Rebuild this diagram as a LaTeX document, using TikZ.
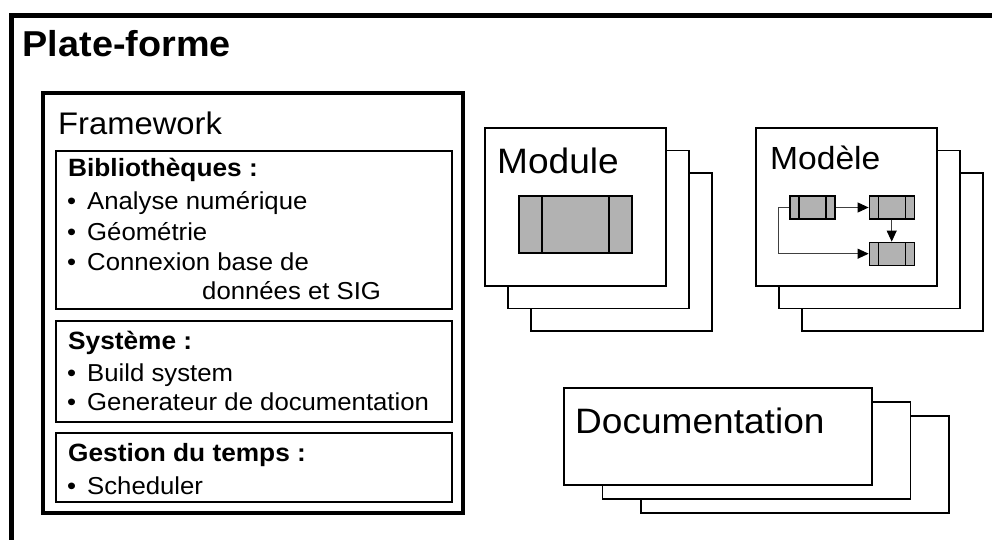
\documentclass[tikz,border=0pt]{standalone}
\usepackage{fontspec}
\setmainfont{Liberation Sans}[FakeStretch=1.05]
\definecolor{blocgray}{RGB}{178,178,178}
\definecolor{flechegray}{RGB}{64,64,64}
\usetikzlibrary{arrows.meta,positioning,calc}

\tikzset{
  texte/.style={anchor=base west, inner sep=0pt},
  grand/.style={texte, font=\fontsize{35.3}{40}\selectfont},
  rubrique/.style={texte, font=\fontsize{25}{28}\selectfont\bfseries},
  puce/.style={texte, font=\fontsize{24.5}{28}\selectfont},
  cadre/.style={draw, line width=1.5pt},
  feuille/.style={draw, fill=white, line width=1.5pt},
  bloc/.style={draw, line width=1.2pt, fill=blocgray, inner sep=0pt},
  cloison/.style={path picture={\draw[line width=1.2pt]
      ([xshift=#1]path picture bounding box.south west) -- ([xshift=#1]path picture bounding box.north west)
      ([xshift=-#1]path picture bounding box.south east) -- ([xshift=-#1]path picture bounding box.north east);}},
  fleche/.style={draw=flechegray, line width=0.9pt, -{Triangle[length=11pt,width=10pt,color=black]}}
}
\newcommand{\puce}{\makebox[20pt][l]{•}}

\begin{document}
\begin{tikzpicture}[x=1pt,y=-1pt]
    \useasboundingbox (0,0) rectangle (992,540);

    % Plate-forme
    \draw[line width=5pt] (11,545) -- (11,15.5) -- (997,15.5);
    \node[texte, font=\fontsize{36}{40}\selectfont\bfseries] (plateforme) at (22.5,57) {Plate-forme};

    % Framework
    \draw[line width=4pt] (43,93) rectangle (463,513);
    \node[texte, font=\fontsize{31.2}{34}\selectfont] (framework) at (58,135) {Framework};

    % Bibliotheques
    \draw[cadre] (56,151) rectangle (452,309);
    \node[rubrique] (biblio) at (68,177) {Bibliothèques :};
    \foreach \txt/\y [count=\i] in {Analyse numérique/209, Géométrie/240, Connexion base de/270}
        \node[puce] (biblio\i) at (67,\y) {\puce\txt};
    \node[puce] (biblio4) at (202,299) {données et SIG};

    % Systeme
    \draw[cadre] (56,321) rectangle (452,422);
    \node[rubrique] (systeme) at (68,349) {Système :};
    \node[puce] (systeme1) at (67,381) {\puce Build system};
    \node[puce] (systeme2) at (67,410) {\puce Generateur de documentation};

    % Gestion du temps
    \draw[cadre] (56,433) rectangle (452,502);
    \node[rubrique] (temps) at (68,461) {Gestion du temps :};
    \node[puce] (temps1) at (67,494) {\puce Scheduler};

    % Module
    \foreach \k in {2,1,0}
        \draw[feuille] (485+23*\k,128+22.5*\k) rectangle ++(181,158);
    \node[grand] (module) at (497,173) {Module};
    \node[bloc, cloison=23pt, minimum width=113pt, minimum height=57pt] (composant) at (575.5,224.5) {};

    % Modele
    \foreach \k in {2,1,0}
        \draw[feuille] (756+23*\k,128+22.5*\k) rectangle ++(181,158);
    \node[texte, font=\fontsize{32}{36}\selectfont] (modele) at (770,170) {Modèle};
    \node[bloc, cloison=9pt, minimum width=45pt, minimum height=23pt] (etape1) at (812.5,207.5) {};
    \node[bloc, cloison=9pt, minimum width=45pt, minimum height=23pt, right=33pt of etape1] (etape2) {};
    \node[bloc, cloison=9pt, minimum width=45pt, minimum height=23pt, below=22pt of etape2] (etape3) {};
    \draw[fleche] (etape1) -- (etape2);
    \draw[fleche] (etape2) -- (etape3);
    \draw[fleche] (etape1.west) -- ++(-11,0) |- (etape3.west);

    % Documentation
    \foreach \k in {2,1,0}
        \draw[feuille] (564+38.5*\k,388+14*\k) rectangle ++(308,97);
    \node[grand] (documentation) at (575,433) {Documentation};
\end{tikzpicture}
\end{document}
